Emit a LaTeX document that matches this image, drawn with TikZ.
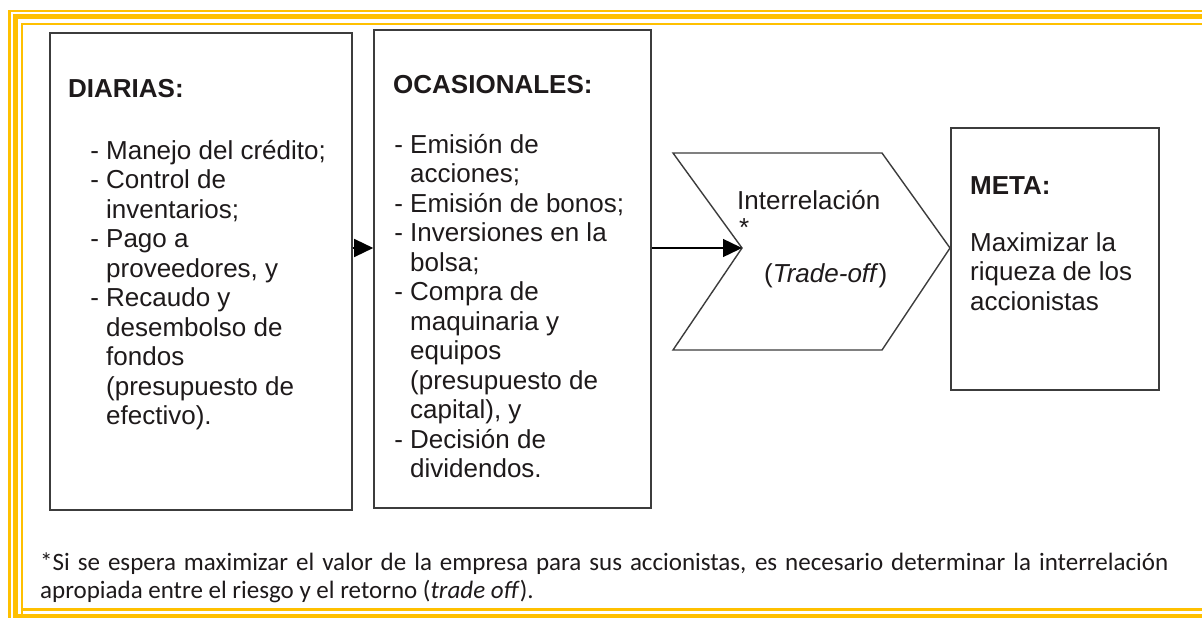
\documentclass[tikz,border=0pt]{standalone}
\usepackage{fontspec}
\setmainfont{Liberation Sans}
\newfontfamily\fnfont{Carlito}
\usetikzlibrary{arrows.meta}
\definecolor{gold}{HTML}{FFC000}
\definecolor{ink}{HTML}{1E1A1B}
\definecolor{edge}{HTML}{3C3C3C}
\newcommand\linestack[1]{\vtop{\baselineskip=29.5pt\lineskiplimit=-100pt\halign{##\hfil\cr#1\crcr}}}
\begin{document}
\begin{tikzpicture}[x=1pt,y=-1pt,
  font=\fontsize{26}{29.5}\selectfont,
  boxstyle/.style={draw=edge, line width=1.6pt, rectangle, inner sep=0pt},
  txt/.style={inner sep=0pt, text=ink, anchor=base west},
  fntxt/.style={txt, font=\fnfont\fontsize{25}{28}\selectfont},
  goldline/.style={draw=gold},
  conn/.style={draw=black, line width=1.4pt, -{Triangle[length=19pt,width=18pt]}}]
\useasboundingbox (0,0) rectangle (1202,618);
\clip (0,0) rectangle (1202,618);
\fill[white] (0,0) rectangle (1202,618);
% border
\draw[goldline, line width=2.5pt] (9.5,640) -- (9.5,11) -- (1230,11);
\draw[goldline, line width=5pt] (15.5,640) -- (15.5,17) -- (1230,17);
\draw[goldline, line width=5pt] (15.5,616) -- (1230,616);
\draw[goldline, line width=2.2pt] (22,640) -- (22,24) -- (1230,24);
\draw[goldline, line width=2.5pt] (22,609.5) -- (1230,609.5);
% boxes
\node[boxstyle, minimum width=302pt, minimum height=477pt] (box1) at (201,271.5) {};
\node[boxstyle, minimum width=277pt, minimum height=478pt] (box2) at (512.5,269) {};
\node[boxstyle, minimum width=208pt, minimum height=262pt] (meta) at (1055,259) {};
% chevron
\coordinate (notch) at (742,248);
\coordinate (tip) at (950,248);
\draw[edge, line width=1.4pt, line join=miter] (673,153) -- (882,153) -- (tip) -- (882,350) -- (673,350) -- (notch) -- cycle;
% connectors
\draw[conn] (box1.east |- notch) -- (box2.west |- notch);
\draw[conn] (box2.east |- notch) -- (notch);
% box 1 text
\node[txt] (h1) at (68,97) {\bfseries DIARIAS:};
\node[txt] (l1) at (106,159) {\linestack{\llap{- }Manejo del crédito;\cr
\llap{- }Control de\cr inventarios;\cr
\llap{- }Pago a\cr proveedores, y\cr
\llap{- }Recaudo y\cr desembolso de\cr fondos\cr (presupuesto de\cr efectivo).}};
% box 2 text
\node[txt] (h2) at (393,93) {\bfseries OCASIONALES:};
\node[txt] (l2) at (410,153) {\linestack{\llap{- }Emisión de\cr acciones;\cr
\llap{- }Emisión de bonos;\cr
\llap{- }Inversiones en la\cr bolsa;\cr
\llap{- }Compra de\cr maquinaria y\cr equipos\cr (presupuesto de\cr capital), y\cr
\llap{- }Decisión de\cr dividendos.}};
% chevron text
\node[txt] (inter) at (737,209) {Interrelación};
\node[txt] (star) at (739,236) {*};
\node[txt] (trade) at (764,282) {(\textit{Trade-off})};
% meta text
\node[txt] (h3) at (970,194) {\bfseries META:};
\node[txt] (l3) at (970,251) {\linestack{Maximizar la\cr riqueza de los\cr accionistas}};
% footnote
\node[fntxt] (fn1) at (40,570) {\makebox[1128pt][s]{*Si se espera maximizar el valor de la empresa para sus accionistas, es necesario determinar la interrelación}};
\node[fntxt] (fn2) at (40,598) {apropiada entre el riesgo y el retorno (\textit{trade off}).};
\end{tikzpicture}
\end{document}
